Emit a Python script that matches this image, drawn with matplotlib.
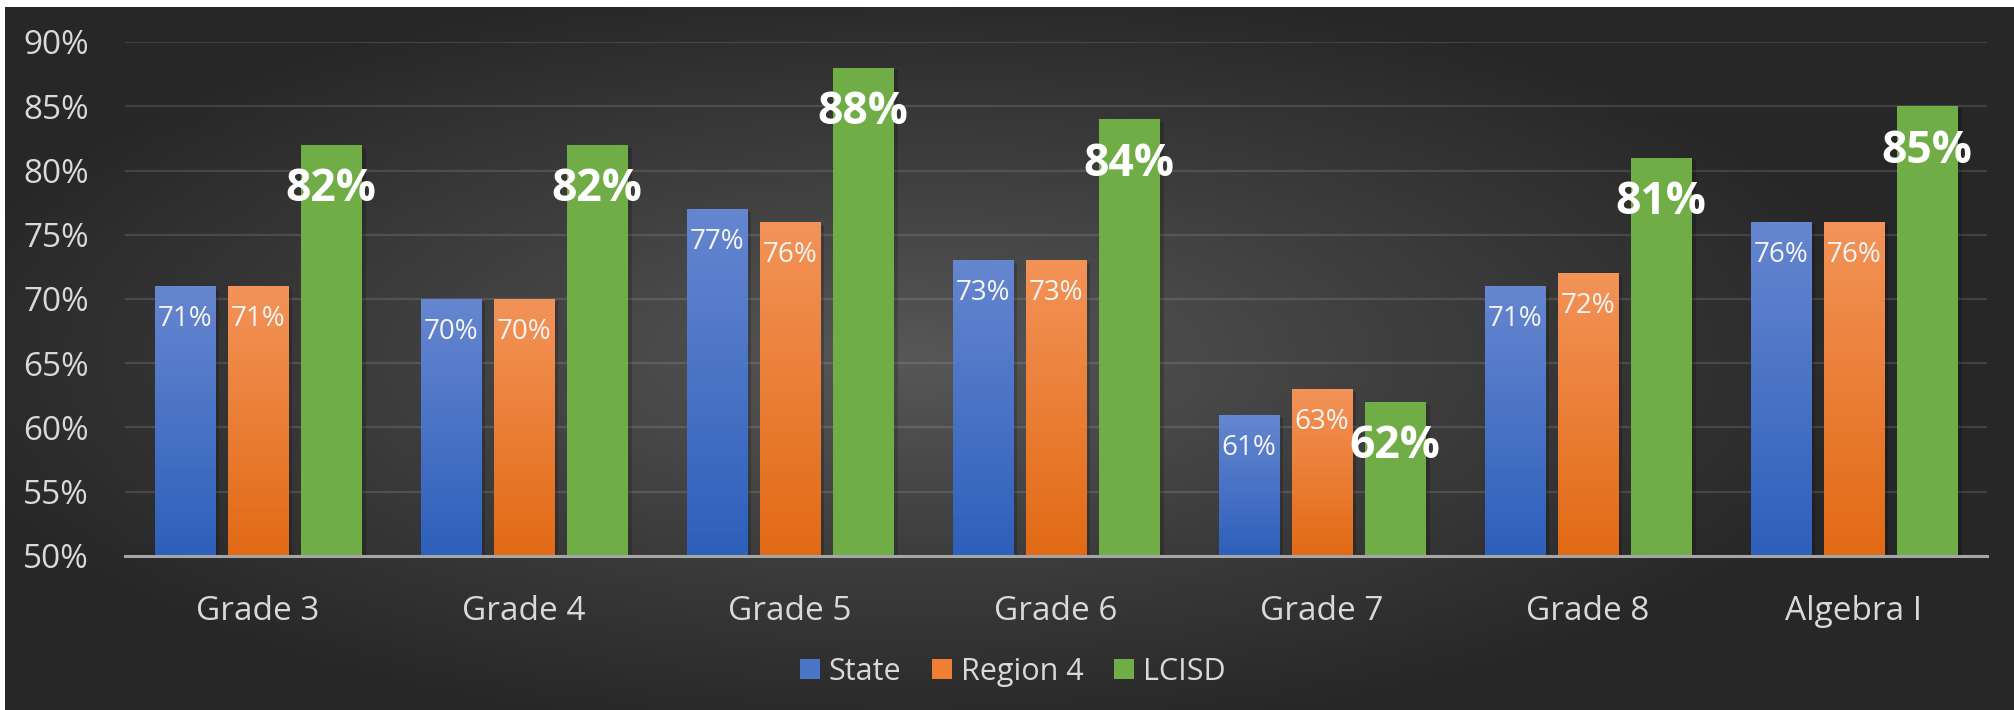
import numpy as np
import matplotlib
matplotlib.use("Agg")
import matplotlib.pyplot as plt
import matplotlib.patheffects as pe
from matplotlib.colors import LinearSegmentedColormap
from matplotlib.patches import Patch

# datos
categorias = ["Grade 3", "Grade 4", "Grade 5", "Grade 6", "Grade 7", "Grade 8", "Algebra I"]
state = [71, 70, 77, 73, 61, 71, 76]
region4 = [71, 70, 76, 73, 63, 72, 76]
lcisd = [82, 82, 88, 84, 62, 81, 85]
series_names = ["State", "Region 4", "LCISD"]

plt.rcParams["font.family"] = ["Open Sans", "DejaVu Sans"]

W, H = 2015, 710
fig = plt.figure(figsize=(W / 100, H / 100), dpi=100, facecolor="white")

# fondo con degradado radial
bg = fig.add_axes([5 / W, 0, 1 - 5 / W, 1 - 7 / H], zorder=-10)
gx, gy = np.meshgrid(np.linspace(-1, 1, 400), np.linspace(-1, 1, 140))
r = np.sqrt(((gx + 0.1) / 1.0) ** 2 + (gy / 1.1) ** 2)
r = np.clip(r, 0, 1)
bg_cmap = LinearSegmentedColormap.from_list("bg", ["#575757", "#3e3e3e", "#272727"])
bg.imshow(r, cmap=bg_cmap, aspect="auto", extent=[0, 1, 0, 1], vmin=0, vmax=1)
bg.set_axis_off()

ax = fig.add_axes([125 / W, 1 - 556 / H, (1987 - 125) / W, (556 - 42) / H])
ax.set_facecolor("none")

x = np.arange(len(categorias))
bw = 0.227
gap = 0.048
offsets = [-(bw + gap), 0, bw + gap]

grads = [("#6686d0", "#2d60bb"), ("#f39358", "#e26a15"), ("#70ad47", "#70ad47")]
flat = ["#4472c4", "#ed7d31", "#70ad47"]

sombra = [pe.SimplePatchShadow(offset=(3, -2), alpha=0.18, shadow_rgbFace="black"), pe.Normal()]

all_bars = []
for vals, off, (top, bot), fc in zip([state, region4, lcisd], offsets, grads, flat):
    bars = ax.bar(x + off, np.array(vals) - 50, bw, bottom=50, color=fc, zorder=3,
                  path_effects=sombra)
    cm = LinearSegmentedColormap.from_list("g", [bot, top])
    for b in bars:
        x0, y0 = b.get_x(), b.get_y()
        w, h = b.get_width(), b.get_height()
        img = ax.imshow(np.linspace(0, 1, 100).reshape(-1, 1), cmap=cm, aspect="auto",
                        origin="lower", extent=[x0, x0 + w, y0, y0 + h], zorder=4)
        img.set_clip_path(b)
    all_bars.append(bars)

# etiquetas
for bars, vals in zip(all_bars[:2], [state, region4]):
    for b, v in zip(bars, vals):
        ax.annotate(f"{v}%", (b.get_x() + b.get_width() / 2, b.get_y() + b.get_height()),
                    xytext=(0, -33), textcoords="offset pixels", ha="center", va="center",
                    fontsize=20, color="#f5f5f5", zorder=6)
for b, v in zip(all_bars[2], lcisd):
    ax.annotate(f"{v}%", (b.get_x() + b.get_width() / 2, b.get_y() + b.get_height()),
                xytext=(0, -45), textcoords="offset pixels", ha="center", va="center",
                fontsize=32, fontweight="bold", color="white", zorder=6)

ax.set_xlim(-0.5, len(categorias) - 0.5)
ax.set_ylim(50, 90)
ax.set_yticks(np.arange(50, 91, 5))
ax.set_yticklabels([f"{t}%" for t in range(50, 91, 5)])
ax.set_xticks(x)
ax.set_xticklabels(categorias)
ax.tick_params(axis="y", length=0, pad=26, labelsize=24, labelcolor="#d9d9d9")
ax.tick_params(axis="x", length=0, pad=28, labelsize=24, labelcolor="#d9d9d9")
ax.grid(axis="y", color="white", alpha=0.12, lw=1.6, zorder=0)
ax.set_axisbelow(True)
for s in ["top", "right", "left"]:
    ax.spines[s].set_visible(False)
ax.spines["bottom"].set_color("#a6a6a6")
ax.spines["bottom"].set_linewidth(2.2)
ax.spines["bottom"].set_zorder(5)

handles = [Patch(facecolor=c, edgecolor="none") for c in ["#4a76c8", "#ee7f33", "#70ad47"]]
fig.legend(handles, series_names, loc="center", bbox_to_anchor=(1013 / W, 1 - 672 / H),
           ncol=3, frameon=False, fontsize=22, labelcolor="#d9d9d9",
           handlelength=0.65, handleheight=0.65, handletextpad=0.3, columnspacing=1.0)

fig.savefig("out.png", dpi=100, facecolor="white")
